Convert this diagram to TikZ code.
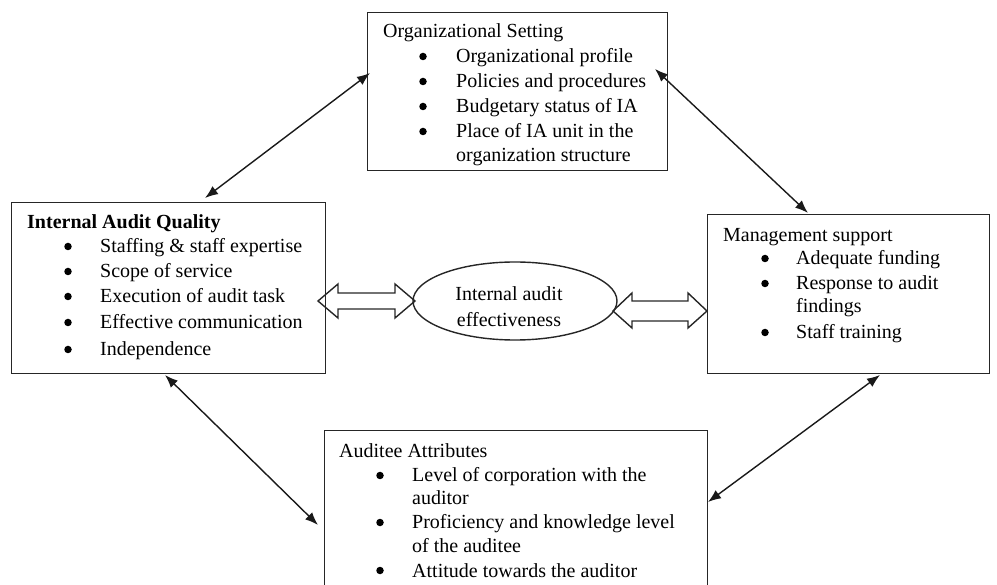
\documentclass[tikz,border=0pt]{standalone}
\usepackage{fontspec}
\setmainfont{Liberation Serif}
\usetikzlibrary{arrows.meta,shapes.geometric}
\begin{document}
\begin{tikzpicture}[x=1pt,y=-1pt,
 box/.style={draw=black!85, line width=1.4pt, inner sep=0pt, anchor=north west},
 txt/.style={anchor=base west, inner sep=0pt, font=\fontsize{20}{25}\selectfont},
 ctxt/.style={anchor=base, inner sep=0pt, font=\fontsize{20}{25}\selectfont},
 bul/.style={circle, fill=black, inner sep=0pt, minimum size=7.5pt, yshift=6.5pt},
 link/.style={line width=1.4pt, draw=black!90, {Latex[length=13pt,width=10pt]}-{Latex[length=13pt,width=10pt]}},
 hollow/.style={draw=black!85, line width=1.4pt, line join=miter}]
\useasboundingbox (0,0) rectangle (997,585);
\clip (0,0) rectangle (997,585);

% boxes
\node[box, minimum width=300pt, minimum height=158pt] (org) at (367,12) {};
\node[box, minimum width=314pt, minimum height=171pt] (iaq) at (11,202) {};
\node[box, minimum width=282pt, minimum height=159pt] (mgt) at (707,214) {};
\node[box, minimum width=383pt, minimum height=170pt] (aud) at (324,430) {};
\node[draw=black!85, line width=1.4pt, ellipse, minimum width=204pt, minimum height=78pt, inner sep=0pt] (eff) at (515,301) {};

% organizational setting
\node[txt] (orgT) at (383,38) {Organizational Setting};
\foreach \y/\t [count=\i] in {63/Organizational profile, 88/Policies and procedures, 113/Budgetary status of IA, 138/Place of IA unit in the}{
  \node[bul] (orgB\i) at (423,\y) {};
  \node[txt] (orgL\i) at (456,\y) {\t};
}
\node[txt] (orgL5) at (456,162) {organization structure};

% internal audit quality
\node[txt] (iaqT) at (27,229) {\textbf{Internal Audit Quality}};
\foreach \y/\t [count=\i] in {253/Staffing \& staff expertise, 278/Scope of service, 303/Execution of audit task, 329/Effective communication, 356/Independence}{
  \node[bul] (iaqB\i) at (68,\y) {};
  \node[txt] (iaqL\i) at (100,\y) {\t};
}

% management support
\node[txt] (mgtT) at (723,242) {Management support};
\node[bul] (mgtB1) at (765,265) {};
\node[txt] (mgtL1) at (796,265) {Adequate funding};
\node[bul] (mgtB2) at (765,290) {};
\node[txt] (mgtL2) at (796,290) {Response to audit};
\node[txt] (mgtL3) at (796,313) {findings};
\node[bul] (mgtB3) at (765,339) {};
\node[txt] (mgtL4) at (796,339) {Staff training};

% auditee attributes
\node[txt] (audT) at (339,457) {Auditee Attributes};
\node[bul] (audB1) at (380,482) {};
\node[txt] (audL1) at (412,482) {Level of corporation with the};
\node[txt] (audL2) at (412,504) {auditor};
\node[bul] (audB2) at (380,529) {};
\node[txt] (audL3) at (412,529) {Proficiency and knowledge level};
\node[txt] (audL4) at (412,552) {of the auditee};
\node[bul] (audB3) at (380,577) {};
\node[txt] (audL5) at (412,577) {Attitude towards the auditor};

% ellipse text
\node[ctxt] (effL1) at (509,301) {Internal audit};
\node[ctxt] (effL2) at (509,327) {effectiveness};

% diagonal connectors
\coordinate (iaqTop) at (205,198);
\coordinate (orgLeft) at (370,73);
\coordinate (orgRight) at (655,69);
\coordinate (mgtTop) at (808,213);
\coordinate (iaqBot) at (165,375);
\coordinate (audLeft) at (318,525);
\coordinate (mgtBot) at (880,375);
\coordinate (audRight) at (708,502);
\draw[link] (iaqTop) -- (orgLeft);
\draw[link] (orgRight) -- (mgtTop);
\draw[link] (iaqBot) -- (audLeft);
\draw[link] (mgtBot) -- (audRight);

% hollow double arrows
\draw[hollow] (318,301) -- (338,284) -- (338,293) -- (395,293) -- (395,284) -- (415,301)
  -- (395,318) -- (395,309) -- (338,309) -- (338,318) -- cycle;
\draw[hollow] (613,311) -- (632,293) -- (632,301) -- (688,301) -- (688,293) -- (707,311)
  -- (688,328) -- (688,321) -- (632,321) -- (632,328) -- cycle;
\end{tikzpicture}
\end{document}
